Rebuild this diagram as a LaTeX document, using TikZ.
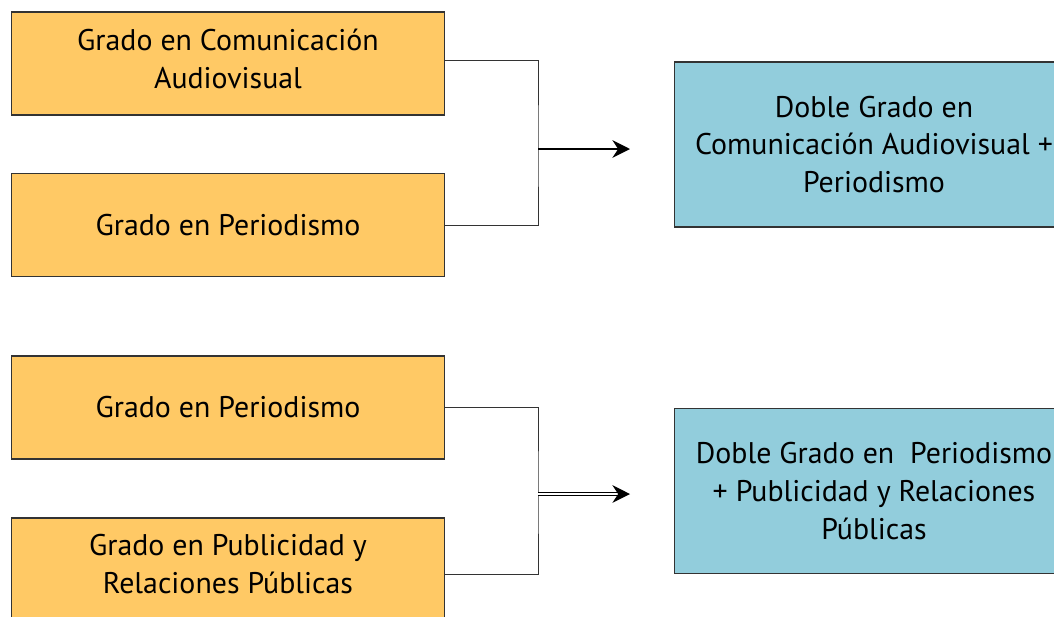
\documentclass[tikz,border=0pt]{standalone}
\usepackage{fontspec}
\setmainfont{PT Sans}
\usetikzlibrary{arrows.meta,positioning}
\definecolor{gradoorange}{HTML}{FFC965}
\definecolor{dobleblue}{HTML}{92CDDC}

\begin{document}
\begin{tikzpicture}[x=0.02cm,y=-0.02cm,>={Stealth[length=10pt,width=10pt]},semithick]
  \tikzstyle{grado}=[draw=black!80,fill=gradoorange,minimum width=8.68cm,minimum height=2.06cm,align=center,font=\fontsize{17}{21.5}\selectfont]
  \tikzstyle{doble}=[draw=black!80,fill=dobleblue,minimum width=8cm,minimum height=3.3cm,align=center,font=\fontsize{17}{21.5}\selectfont]
  \tikzstyle{link}=[draw=black!80,thin]

  \useasboundingbox (0,0) rectangle (1054,616);

  \node[grado] (cav)  at (228,63.5)  {Grado en Comunicación\\Audiovisual\\[-16.5pt]};
  \node[grado] (per1) at (228,225)   {Grado en Periodismo};
  \node[grado] (per2) at (228,407.5) {Grado en Periodismo};
  \node[grado] (pub)  at (228,569.5) {Grado en Publicidad y\\Relaciones Públicas\\[-15.5pt]};

  \node[doble] (dcp) at (874,144.5) {Doble Grado en\\Comunicación Audiovisual +\\Periodismo};
  \node[doble] (dpp) at (874,491)   {Doble Grado en~~Periodismo\\+ Publicidad y Relaciones\\Públicas};

  \coordinate (j1) at (538,149);
  \coordinate (j2) at (538,494);

  \draw[link] ([yshift=0.06cm]cav.east) -| (j1) |- (per1.east);
  \draw[line width=1.4pt,->] (j1) -- (630,149);

  \draw[link] (per2.east) -| (j2) |- ([yshift=-0.09cm]pub.east);
  \draw[double,line width=0.8pt,double distance=1.2pt,->] (j2) -- (630,494);
\end{tikzpicture}
\end{document}
